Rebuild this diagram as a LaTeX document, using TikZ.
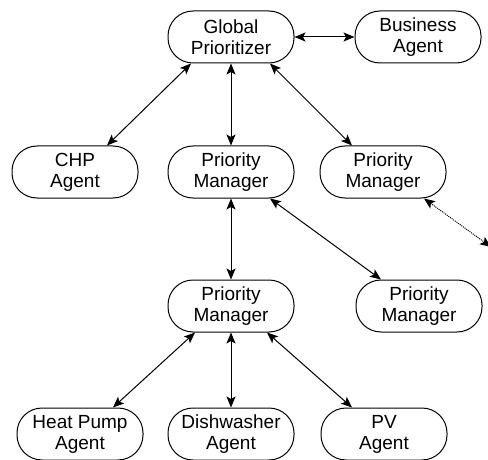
\documentclass[tikz,border=0pt]{standalone}
\usepackage{fontspec}
\setmainfont{Liberation Sans}
\usetikzlibrary{arrows.meta}
\begin{document}
\begin{tikzpicture}[x=1pt,y=-1pt,
  agent/.style={draw,line width=1pt,rounded corners=25pt,minimum width=126pt,
    minimum height=52pt,inner sep=0pt,align=center,
    font=\fontsize{19}{21}\selectfont},
  tip/.style={Stealth[length=11pt,width=9pt,inset=2.5pt]},
  link/.style={line width=1pt,{Stealth[length=11pt,width=9pt,inset=2.5pt]}-{Stealth[length=11pt,width=9pt,inset=2.5pt]}},
  dotlink/.style={line width=1pt,densely dotted,{Stealth[length=11pt,width=9pt,inset=2.5pt]}-{Stealth[length=11pt,width=9pt,inset=2.5pt]}}]
\useasboundingbox (0,0) rectangle (488,460);
% top level
\node[agent] (gp) at (231,37) {Global\\Prioritizer};
\node[agent] (ba) at (418,37) {Business\\Agent};
% second level
\node[agent] (chp) at (75,172) {CHP\\Agent};
\node[agent] (pm1) at (231,172) {Priority\\Manager};
\node[agent] (pm2) at (383,172) {Priority\\Manager};
% third level
\node[agent] (pm3) at (231,306) {Priority\\Manager};
\node[agent] (pm4) at (419,306) {Priority\\Manager};
% devices
\node[agent] (hp) at (80,434) {Heat Pump\\Agent};
\node[agent] (dw) at (231,434) {Dishwasher\\Agent};
\node[agent] (pv) at (384,434) {PV\\Agent};
\coordinate (ext) at (491,247);
% connectors
\draw[link] (gp.east) -- (ba.west);
\draw[link] ([xshift=-40pt]gp.south) -- ([xshift=32pt]chp.north);
\draw[link] (gp.south) -- (pm1.north);
\draw[link] ([xshift=39pt]gp.south) -- ([xshift=-31pt]pm2.north);
\draw[link] (pm1.south) -- (pm3.north);
\draw[link] ([xshift=39pt]pm1.south) -- ([xshift=-38pt]pm4.north);
\draw[link] ([xshift=-36pt]pm3.south) -- ([xshift=33pt]hp.north);
\draw[link] (pm3.south) -- (dw.north);
\draw[link] ([xshift=36pt]pm3.south) -- ([xshift=-32pt]pv.north);
\draw[dotlink] ([xshift=41pt]pm2.south) -- (ext);
\end{tikzpicture}
\end{document}
